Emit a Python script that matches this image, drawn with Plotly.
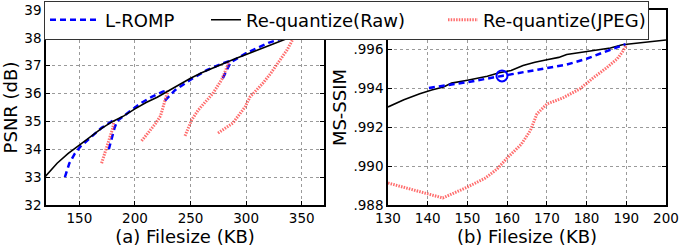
import plotly.graph_objects as go

# ---------------- data: (a) PSNR vs filesize ----------------
raw_a_x = [115, 120, 130, 140, 150, 160, 170, 180, 190, 200, 210, 220, 230, 240, 250,
           260, 270, 280, 290, 300, 310, 320, 330, 345]
raw_a_y = [32.85, 33.05, 33.5, 33.85, 34.15, 34.45, 34.75, 35.0, 35.2, 35.45, 35.68, 35.87,
           36.1, 36.35, 36.55, 36.75, 36.92, 37.07, 37.25, 37.4, 37.55, 37.7, 37.85, 38.1]

# L-ROMP: four pieces separated by None gaps
lromp_a_x = [137, 141, 146, 151, 160, 170, 181, None,
             176.5, 179, 181.5, 184, 195, 205, 215, 225, 229.5, None,
             227, 231, 236, 250, 265, 280, 286, None,
             279, 283, 286, 300, 320, 343]
lromp_a_y = [33.0, 33.5, 33.85, 34.1, 34.42, 34.77, 35.05, None,
             34.0, 34.4, 34.75, 35.02, 35.35, 35.65, 35.88, 36.07, 36.12, None,
             35.75, 35.92, 36.12, 36.5, 36.85, 37.1, 37.18, None,
             36.55, 36.85, 37.12, 37.45, 37.82, 38.12]

jpeg_a_x = [170, 173, 176, 178, 180, 181, None,
            206, 210, 214, 219, 223, 226, 228, 229.5, None,
            245, 251, 256.7, 263, 270, 278, 282.6, 284.6, None,
            274.7, 288, 299, 303.5, 315, 322, 328.6, 336.7, 344]
jpeg_a_y = [33.5, 33.9, 34.3, 34.55, 34.75, 35.0, None,
            34.3, 34.5, 34.7, 34.95, 35.2, 35.6, 35.9, 36.1, None,
            34.48, 35.05, 35.4, 35.7, 36.0, 36.5, 36.95, 37.13, None,
            34.58, 34.94, 35.52, 35.88, 36.37, 36.72, 37.1, 37.56, 38.1]

# ---------------- data: (b) MS-SSIM vs filesize ----------------
raw_b_x = [130, 134, 138, 141, 144, 146, 150, 155, 158, 161, 164, 167, 170, 173, 175,
           178, 182, 186, 189, 193, 200]
raw_b_y = [0.99303, 0.9934, 0.9937, 0.9939, 0.99405, 0.99425, 0.9944, 0.9946, 0.99478,
           0.9949, 0.99515, 0.99532, 0.99545, 0.99557, 0.99572, 0.99581, 0.9959, 0.99605,
           0.99622, 0.99632, 0.99646]

lromp_b_x = [140.3, 150, 158.7, 165, 170, 175, 180, 185, 189.8]
lromp_b_y = [0.9940, 0.9943, 0.99462, 0.99483, 0.995, 0.9952, 0.9955, 0.9959, 0.99625]

marker_b_x = [158.7]
marker_b_y = [0.99462]

jpeg_b_x = [130, 137, 143.8, 147, 150, 154.5, 157.5, 160, 163.5, 165.8, 167.5, 170, 174,
            178.3, 181.6, 185, 187.7, 189.2, 190]
jpeg_b_y = [0.98913, 0.98875, 0.98836, 0.98865, 0.98892, 0.98938, 0.98985, 0.99041,
            0.9911, 0.9918, 0.99267, 0.99318, 0.99349, 0.99395, 0.99451, 0.99503,
            0.99549, 0.9959, 0.99622]

a_xticks = [150, 200, 250, 300, 350]
a_yticks = [32, 33, 34, 35, 36, 37, 38, 39]
b_xticks = [130, 140, 150, 160, 170, 180, 190, 200]
b_yticks = [0.988, 0.990, 0.992, 0.994, 0.996]
b_yticktext = [".988", ".990", ".992", ".994", ".996"]

names = ["L-ROMP", "Re-quantize(Raw)", "Re-quantize(JPEG)"]

# ---------------- styles ----------------
BLUE = "#0000ff"
BLACK = "#000000"
RED = "rgba(255,60,60,0.75)"
blue_line = dict(color=BLUE, width=2.5, dash="6px,4px")
black_line = dict(color=BLACK, width=1.6)
red_line = dict(color=RED, width=3, dash="1.5px,1.2px")
FONT = "DejaVu Sans"

fig = go.Figure()

# panel (a)
fig.add_trace(go.Scatter(x=lromp_a_x, y=lromp_a_y, mode="lines", line=blue_line,
                         name=names[0], legend="legend", showlegend=True,
                         xaxis="x", yaxis="y"))
fig.add_trace(go.Scatter(x=jpeg_a_x, y=jpeg_a_y, mode="lines", line=red_line,
                         name=names[2], legend="legend3", showlegend=True,
                         xaxis="x", yaxis="y"))
fig.add_trace(go.Scatter(x=raw_a_x, y=raw_a_y, mode="lines", line=black_line,
                         name=names[1], legend="legend2", showlegend=True,
                         xaxis="x", yaxis="y"))

# panel (b)
fig.add_trace(go.Scatter(x=jpeg_b_x, y=jpeg_b_y, mode="lines", line=red_line,
                         showlegend=False, xaxis="x2", yaxis="y2"))
fig.add_trace(go.Scatter(x=raw_b_x, y=raw_b_y, mode="lines", line=black_line,
                         showlegend=False, xaxis="x2", yaxis="y2"))
fig.add_trace(go.Scatter(x=lromp_b_x, y=lromp_b_y, mode="lines", line=blue_line,
                         showlegend=False, xaxis="x2", yaxis="y2"))
fig.add_trace(go.Scatter(x=marker_b_x, y=marker_b_y, mode="markers",
                         marker=dict(symbol="circle-open", size=11, color=BLUE,
                                     line=dict(width=2, color=BLUE)),
                         showlegend=False, xaxis="x2", yaxis="y2"))

axis_common = dict(showline=True, linecolor="black", linewidth=1.5, mirror="ticks",
                   ticks="inside", ticklen=4, tickwidth=1, tickcolor="black",
                   showgrid=True, gridcolor="#9a9a9a", griddash="dot", gridwidth=1,
                   zeroline=False, automargin=False,
                   tickfont=dict(family=FONT, size=13.5, color="black"))

W, H = 684, 248
ml, mr, mt, mb = 46, 18, 10, 43
pw = W - ml - mr
ph = H - mt - mb

def px_x(p):
    return (p - ml) / pw

def px_y(p):
    return (H - mb - p) / ph

fig.update_layout(
    width=W, height=H,
    margin=dict(l=ml, r=mr, t=mt, b=mb, autoexpand=False),
    paper_bgcolor="white", plot_bgcolor="white",
    font=dict(family=FONT, color="black"),
    xaxis=dict(domain=[0, px_x(324)], range=[120, 370], tickvals=a_xticks,
               title=dict(text="(a) Filesize (KB)", font=dict(size=18), standoff=0),
               anchor="y", **axis_common),
    yaxis=dict(domain=[0, 1], range=[32, 39], tickvals=a_yticks,
               title=dict(text="PSNR (dB)", font=dict(size=18), standoff=2),
               anchor="x", **axis_common),
    xaxis2=dict(domain=[px_x(388), 1], range=[130, 200], tickvals=b_xticks,
                title=dict(text="(b) Filesize (KB)", font=dict(size=18), standoff=0),
                anchor="y2", **axis_common),
    yaxis2=dict(domain=[0, 1], range=[0.988, 0.998], tickvals=b_yticks,
                ticktext=b_yticktext,
                title=dict(text="MS-SSIM", font=dict(size=18), standoff=2),
                anchor="x2", **axis_common),
)

leg_font = dict(family=FONT, size=18, color="black")
fig.update_layout(
    # first legend carries the framed white box that spans both panels
    legend=dict(orientation="h", xanchor="left", yanchor="middle",
                x=px_x(44), y=px_y(20), bgcolor="white",
                bordercolor="#333333", borderwidth=1, itemwidth=50,
                entrywidthmode="pixels", entrywidth=538, font=leg_font),
    legend2=dict(orientation="h", xanchor="left", yanchor="middle",
                 x=px_x(206), y=px_y(20), bgcolor="rgba(0,0,0,0)",
                 borderwidth=0, font=leg_font),
    legend3=dict(orientation="h", xanchor="left", yanchor="middle",
                 x=px_x(443), y=px_y(20), bgcolor="rgba(0,0,0,0)",
                 borderwidth=0, font=leg_font),
)

fig.write_html("out.html", config={"displayModeBar": False},
               post_script="document.body.style.margin='0';document.body.style.padding='0';")
